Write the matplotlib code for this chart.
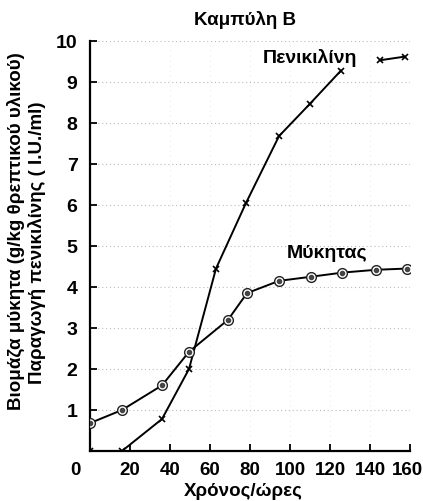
import numpy as np
import matplotlib
matplotlib.use('Agg')
import matplotlib.pyplot as plt
from matplotlib.transforms import ScaledTranslation

plt.rcParams['font.family'] = ['Liberation Sans', 'DejaVu Sans']
plt.rcParams['font.weight'] = 'bold'

# fungus biomass (g/kg)
myc_t = [0, 16, 36, 49.5, 69, 78.5, 94.5, 110.5, 126, 143, 158.5]
myc_y = [0.68, 1.0, 1.6, 2.42, 3.2, 3.85, 4.15, 4.25, 4.35, 4.42, 4.45]

# penicillin production (I.U./ml)
pen_t = [0, 16, 36, 49.5, 63, 78, 94.5, 110, 125.5, 145, 157.5]
pen_y = [0.0, 0.0, 0.78, 2.0, 4.45, 6.05, 7.68, 8.47, 9.28, 9.53, 9.62]

xticks = [0, 20, 40, 60, 80, 100, 120, 140, 160]
yticks = [1, 2, 3, 4, 5, 6, 7, 8, 9, 10]

fig = plt.figure(figsize=(4.23, 5.02), dpi=100)
ax = fig.add_axes([90/423, 1-452/502, 320/423, 410/502])

for y in yticks:
    ax.axhline(y, color='#bbbbbb', lw=0.8, ls=(0, (1, 2.5)), zorder=0)
for x in [40, 60, 80, 100, 120, 140]:
    ax.axvline(x, color='#dddddd', lw=0.6, ls=(0, (1, 5)), zorder=0)

# fungus curve
ax.plot(myc_t, myc_y, '-', color='black', lw=1.4, zorder=2)
ax.plot(myc_t, myc_y, 'o', ms=7, mfc='white', mec='#222222', mew=1.0, zorder=3)
ax.plot(myc_t, myc_y, 'o', ms=3, color='#444444', zorder=4)

# penicillin curve (broken near the label)
ax.plot(pen_t[:9], pen_y[:9], '-', color='black', lw=1.4, zorder=2)
ax.plot(pen_t[9:], pen_y[9:], '-', color='black', lw=1.4, zorder=2)
ax.plot(pen_t, pen_y, 'x', ms=5, color='black', mew=1.2, zorder=3)

ax.set_xlim(0, 160)
ax.set_ylim(0, 10)
ax.set_xticks(xticks)
ax.set_yticks(yticks)
ax.spines['top'].set_visible(False)
ax.spines['right'].set_visible(False)
ax.spines['left'].set_linewidth(1.6)
ax.spines['bottom'].set_linewidth(1.6)
ax.tick_params(axis='both', direction='in', length=5, width=1.3)
ax.tick_params(axis='x', pad=7, labelsize=13.5)
ax.tick_params(axis='y', pad=9, labelsize=14)

# shift the "0" label left and "160" a bit left like the original
xl = ax.get_xticklabels()
xl[0].set_transform(xl[0].get_transform() + ScaledTranslation(-15/100, 0, fig.dpi_scale_trans))
xl[-1].set_transform(xl[-1].get_transform() + ScaledTranslation(-3/100, 0, fig.dpi_scale_trans))

ax.text(110, 9.6, 'Πενικιλίνη', fontsize=14, fontweight='bold', ha='center', va='center')
ax.text(118.5, 4.85, 'Μύκητας', fontsize=14, fontweight='bold', ha='center', va='center')

fig.text(245/423, 1-20/502, 'Καμπύλη Β', fontsize=13.5, fontweight='bold', ha='center', va='center')
fig.text(243/423, 1-492/502, 'Χρόνος/ώρες', fontsize=13.5, fontweight='bold', ha='center', va='center')
fig.text(16/423, 1-231/502, 'Βιομάζα μύκητα (g/kg θρεπτικού υλικού)', fontsize=13.5,
         fontweight='bold', rotation=90, ha='center', va='center')
fig.text(37/423, 1-243/502, 'Παραγωγή πενικιλίνης ( I.U./ml)', fontsize=13.5,
         fontweight='bold', rotation=90, ha='center', va='center')

fig.savefig('out.png', dpi=100)
